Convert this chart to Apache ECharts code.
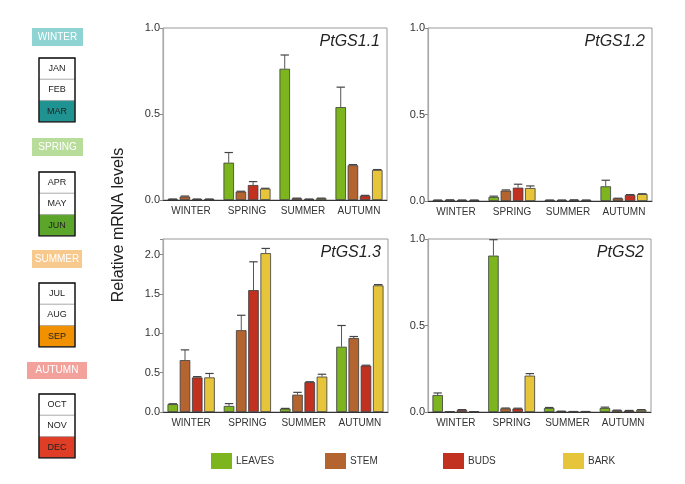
<!DOCTYPE html>
<html><head><meta charset="utf-8">
<script src="https://cdn.jsdelivr.net/npm/echarts@6/dist/echarts.min.js"></script>
<style>html,body{margin:0;padding:0;background:#fff}#c{width:685px;height:484px}</style>
</head><body><div id="c"></div>
<script>
const categories = ['WINTER', 'SPRING', 'SUMMER', 'AUTUMN'];
const tissues = ['LEAVES', 'STEM', 'BUDS', 'BARK'];
const genes = ['PtGS1.1', 'PtGS1.2', 'PtGS1.3', 'PtGS2'];
const yTicksTop = [0, 0.5, 1.0];
const yTicksGS13 = [0, 0.5, 1.0, 1.5, 2.0];

// PtGS1.1
const gs11Leaves = [0.005, 0.217, 0.763, 0.54];
const gs11LeavesErr = [0.001, 0.059, 0.08, 0.116];
const gs11Stem = [0.02, 0.049, 0.01, 0.202];
const gs11StemErr = [0.003, 0.002, 0.001, 0.004];
const gs11Buds = [0.005, 0.087, 0.005, 0.025];
const gs11BudsErr = [0.001, 0.02, 0.001, 0.002];
const gs11Bark = [0.005, 0.066, 0.01, 0.175];
const gs11BarkErr = [0.001, 0.002, 0.001, 0.002];
// PtGS1.2
const gs12Leaves = [0.005, 0.023, 0.005, 0.085];
const gs12LeavesErr = [0.001, 0.005, 0.001, 0.035];
const gs12Stem = [0.006, 0.06, 0.005, 0.015];
const gs12StemErr = [0.001, 0.004, 0.001, 0.001];
const gs12Buds = [0.005, 0.077, 0.006, 0.035];
const gs12BudsErr = [0.001, 0.02, 0.001, 0.002];
const gs12Bark = [0.005, 0.075, 0.005, 0.04];
const gs12BarkErr = [0.001, 0.012, 0.001, 0.002];
// PtGS1.3
const gs13Leaves = [0.1, 0.077, 0.043, 0.83];
const gs13LeavesErr = [0.005, 0.03, 0.003, 0.27];
const gs13Stem = [0.66, 1.04, 0.22, 0.94];
const gs13StemErr = [0.13, 0.19, 0.03, 0.02];
const gs13Buds = [0.44, 1.55, 0.38, 0.59];
const gs13BudsErr = [0.01, 0.36, 0.005, 0.005];
const gs13Bark = [0.44, 2.02, 0.45, 1.61];
const gs13BarkErr = [0.05, 0.06, 0.03, 0.01];
// PtGS2
const gs2Leaves = [0.098, 0.904, 0.023, 0.023];
const gs2LeavesErr = [0.012, 0.092, 0.003, 0.005];
const gs2Stem = [0.002, 0.021, 0.005, 0.01];
const gs2StemErr = [0.0, 0.002, 0.0, 0.001];
const gs2Buds = [0.012, 0.02, 0.003, 0.008];
const gs2BudsErr = [0.002, 0.002, 0.0, 0.001];
const gs2Bark = [0.002, 0.21, 0.003, 0.012];
const gs2BarkErr = [0.0, 0.012, 0.0, 0.002];

const seasons = ['WINTER', 'SPRING', 'SUMMER', 'AUTUMN'];
const seasonMonths = [['JAN','FEB','MAR'],['APR','MAY','JUN'],['JUL','AUG','SEP'],['OCT','NOV','DEC']];

const means = [
  [gs11Leaves, gs11Stem, gs11Buds, gs11Bark],
  [gs12Leaves, gs12Stem, gs12Buds, gs12Bark],
  [gs13Leaves, gs13Stem, gs13Buds, gs13Bark],
  [gs2Leaves, gs2Stem, gs2Buds, gs2Bark]
];
const errs = [
  [gs11LeavesErr, gs11StemErr, gs11BudsErr, gs11BarkErr],
  [gs12LeavesErr, gs12StemErr, gs12BudsErr, gs12BarkErr],
  [gs13LeavesErr, gs13StemErr, gs13BudsErr, gs13BarkErr],
  [gs2LeavesErr, gs2StemErr, gs2BudsErr, gs2BarkErr]
];

const colors = ['#7cb51e', '#b3642f', '#c2311f', '#e6c53b'];
const FONT = '"Liberation Sans", Arial, sans-serif';
const CAT_GAP = 0.16, BAR_GAP = 0.16;

const grids = [
  {left: 163, top: 28, width: 224, height: 172},
  {left: 428, top: 28, width: 224, height: 173},
  {left: 163, top: 239, width: 225, height: 173},
  {left: 428, top: 239, width: 223, height: 173}
];
const yMax = [1, 1, 2.2, 1];
const yTickLists = [yTicksTop, yTicksTop, yTicksGS13, yTicksTop];

const xAxes = [], yAxes = [], series = [];
grids.forEach((g, gi) => {
  xAxes.push({
    type: 'category', gridIndex: gi, data: categories,
    axisLine: {show: true, lineStyle: {color: '#333', width: 1}},
    axisTick: {show: false},
    axisLabel: {interval: 0, color: '#333', fontSize: 10, fontFamily: FONT, margin: 6}
  });
  const ticks = yTickLists[gi];
  yAxes.push({
    type: 'value', gridIndex: gi, min: 0, max: yMax[gi], interval: 0.5,
    splitLine: {show: false},
    axisLine: {show: true, lineStyle: {color: '#aaa', width: 1.2}},
    axisTick: {show: true, length: 3, lineStyle: {color: '#888'}},
    axisLabel: {color: '#333', fontSize: 11, fontFamily: FONT, margin: 3,
      formatter: v => ticks.some(t => Math.abs(t - v) < 1e-9) ? v.toFixed(1) : ''}
  });
  tissues.forEach((t, ti) => {
    series.push({
      type: 'bar', name: t, xAxisIndex: gi, yAxisIndex: gi,
      data: means[gi][ti],
      barCategoryGap: (CAT_GAP * 100) + '%', barGap: (BAR_GAP * 100) + '%',
      itemStyle: {color: colors[ti], borderColor: '#3a3a3a', borderWidth: 0.8},
      emphasis: {disabled: true}, animation: false
    });
  });
  tissues.forEach((t, ti) => {
    series.push({
      type: 'custom', xAxisIndex: gi, yAxisIndex: gi, animation: false, silent: true,
      z: 5,
      data: means[gi][ti].map((m, ci) => [ci, m, errs[gi][ti][ci]]),
      renderItem: function (params, api) {
        const ci = api.value(0), v = api.value(1), e = api.value(2);
        const W = api.size([1, 0])[0];
        const groupW = W * (1 - CAT_GAP);
        const b = groupW / (4 + 3 * BAR_GAP);
        const cx = api.coord([ci, 0])[0] - groupW / 2 + ti * b * (1 + BAR_GAP) + b / 2;
        const y0 = api.coord([ci, v])[1];
        const y1 = api.coord([ci, v + e])[1];
        const half = b * 0.4;
        return {
          type: 'group',
          children: [
            {type: 'line', shape: {x1: cx, y1: y0, x2: cx, y2: y1}, style: {stroke: '#555', lineWidth: 1}},
            {type: 'line', shape: {x1: cx - half, y1: y1, x2: cx + half, y2: y1}, style: {stroke: '#444', lineWidth: 1.2}}
          ]
        };
      }
    });
  });
});

// graphics: panel titles, y label, left season column
const graphic = [];
grids.forEach((g, gi) => {
  graphic.push({
    type: 'text', right: 685 - (g.left + g.width) + 7, top: g.top + 6,
    style: {text: genes[gi], font: 'italic 16px ' + FONT, fill: '#222'}
  });
});
graphic.push({
  type: 'text', x: 119, y: 225, rotation: Math.PI / 2,
  style: {text: 'Relative mRNA levels', font: '16px ' + FONT, fill: '#222', align: 'center', verticalAlign: 'middle'}
});

const seasonBoxes = [
  {x: 32, y: 28, w: 51, h: 18, color: '#8fd3d2'},
  {x: 32, y: 138, w: 51, h: 18, color: '#b8dc9a'},
  {x: 32, y: 250, w: 50, h: 18, color: '#f8c98c'},
  {x: 27, y: 362, w: 60, h: 17, color: '#f3a29b'}
];
const monthBoxes = [
  {y: 58, color: '#1f9391'},
  {y: 172, color: '#5ba52b'},
  {y: 283, color: '#f29100'},
  {y: 394, color: '#df3d25'}
];
seasons.forEach((s, si) => {
  const sb = seasonBoxes[si];
  graphic.push({type: 'rect', shape: {x: sb.x, y: sb.y, width: sb.w, height: sb.h}, style: {fill: sb.color}});
  graphic.push({type: 'text', x: sb.x + sb.w / 2, y: sb.y + sb.h / 2,
    style: {text: s, font: '10px ' + FONT, fill: '#fff', align: 'center', verticalAlign: 'middle'}});
  const mb = monthBoxes[si];
  const cw = 36, ch = 21.3;
  seasonMonths[si].forEach((m, mi) => {
    graphic.push({type: 'rect', shape: {x: 39, y: mb.y + mi * ch, width: cw, height: ch},
      style: {fill: mi === 2 ? mb.color : '#fff', stroke: '#aaa', lineWidth: 0.8}});
    graphic.push({type: 'text', x: 39 + cw / 2, y: mb.y + mi * ch + ch / 2,
      style: {text: m, font: '9px ' + FONT, fill: '#222', align: 'center', verticalAlign: 'middle'}});
  });
  graphic.push({type: 'rect', shape: {x: 39, y: mb.y, width: cw, height: ch * 3},
    style: {fill: 'none', stroke: '#111', lineWidth: 1.4}});
});

const legendLefts = [206, 320, 438, 558];
const legends = tissues.map((t, ti) => ({
  data: [t], left: legendLefts[ti], top: 448, itemWidth: 21, itemHeight: 16,
  icon: 'rect', selectedMode: false,
  itemStyle: {borderWidth: 0},
  textStyle: {fontSize: 10, color: '#333', fontFamily: FONT, padding: [0, 0, 0, -1]}
}));

const chart = echarts.init(document.getElementById('c'), null, {renderer: 'canvas'});
chart.setOption({
  animation: false,
  grid: grids.map(g => Object.assign({show: true, borderColor: '#999', borderWidth: 1, backgroundColor: 'transparent'}, g)),
  xAxis: xAxes, yAxis: yAxes, series, legend: legends, graphic
});
</script></body></html>
